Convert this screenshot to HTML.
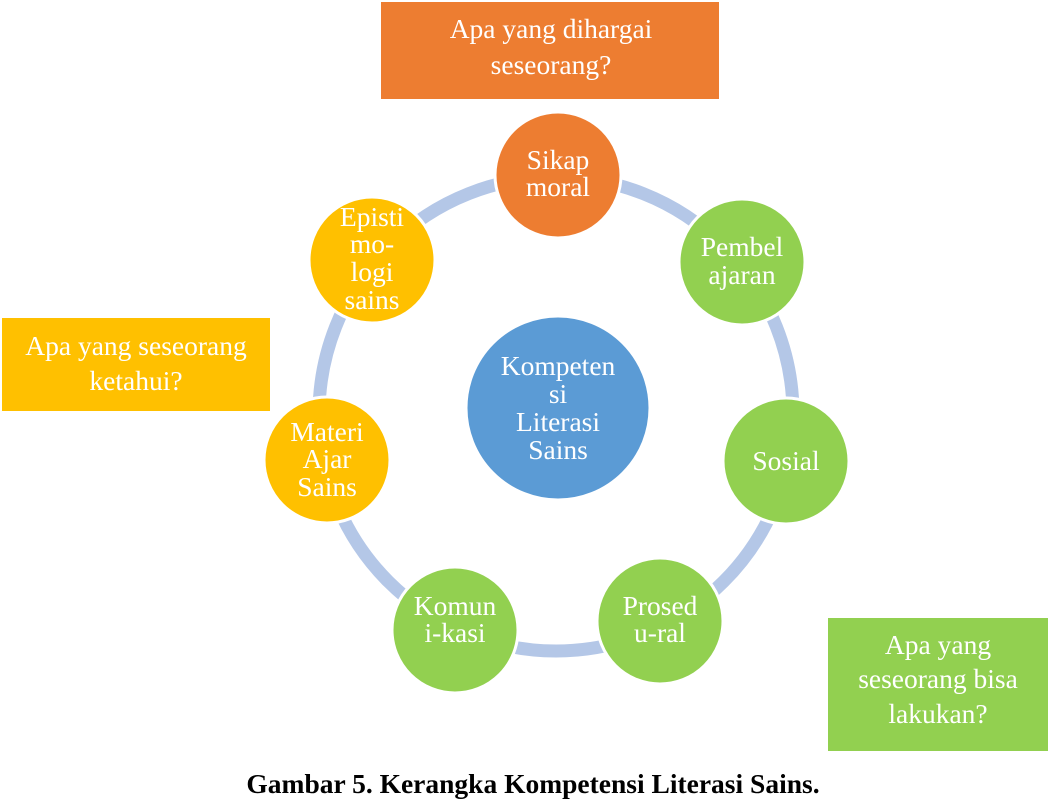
<!DOCTYPE html>
<html><head><meta charset="utf-8"><style>
body{margin:0;width:1051px;height:803px;background:#fff;overflow:hidden}
svg{display:block}
text{font-family:"Liberation Serif",serif;fill:#fff;font-size:27.5px;text-anchor:middle}
</style></head><body>
<svg width="1051" height="803" viewBox="0 0 1051 803">
<circle cx="556" cy="414" r="237" fill="none" stroke="#b4c7e7" stroke-width="13"/>
<rect x="381" y="2" width="338" height="97" fill="#ed7d31"/>
<text x="551" y="38">Apa yang dihargai</text><text x="551" y="74">seseorang?</text>
<rect x="2" y="318" width="268" height="93" fill="#ffc000"/>
<text x="136" y="355">Apa yang seseorang</text><text x="136" y="390">ketahui?</text>
<rect x="828" y="618" width="220" height="133" fill="#92d050"/>
<text x="938" y="654">Apa yang</text><text x="938" y="688">seseorang bisa</text><text x="938" y="723">lakukan?</text>
<g stroke="#fff" stroke-width="3">
<circle cx="558" cy="175" r="63" fill="#ed7d31"/>
<circle cx="742" cy="262" r="63" fill="#92d050"/>
<circle cx="786" cy="461" r="63" fill="#92d050"/>
<circle cx="660" cy="621" r="63" fill="#92d050"/>
<circle cx="455" cy="630" r="63" fill="#92d050"/>
<circle cx="327" cy="460" r="63" fill="#ffc000"/>
<circle cx="372" cy="260" r="63" fill="#ffc000"/>
<circle cx="558" cy="408" r="92" fill="#5b9bd5"/>
</g>
<text x="558" y="169">Sikap</text><text x="558" y="196">moral</text>
<text x="742" y="256">Pembel</text><text x="742" y="284">ajaran</text>
<text x="786" y="470">Sosial</text>
<text x="660" y="615">Prosed</text><text x="660" y="642">u-ral</text>
<text x="455" y="615">Komun</text><text x="455" y="642">i-kasi</text>
<text x="327" y="441">Materi</text><text x="327" y="468">Ajar</text><text x="327" y="496">Sains</text>
<text x="372" y="226">Episti</text><text x="372" y="253">mo-</text><text x="372" y="281">logi</text><text x="372" y="309">sains</text>
<text x="558" y="375">Kompeten</text><text x="558" y="403">si</text><text x="558" y="431">Literasi</text><text x="558" y="459">Sains</text>
<text x="533" y="793" style="fill:#000;font-weight:bold;font-size:27.5px">Gambar 5. Kerangka Kompetensi Literasi Sains.</text>
</svg>
</body></html>
